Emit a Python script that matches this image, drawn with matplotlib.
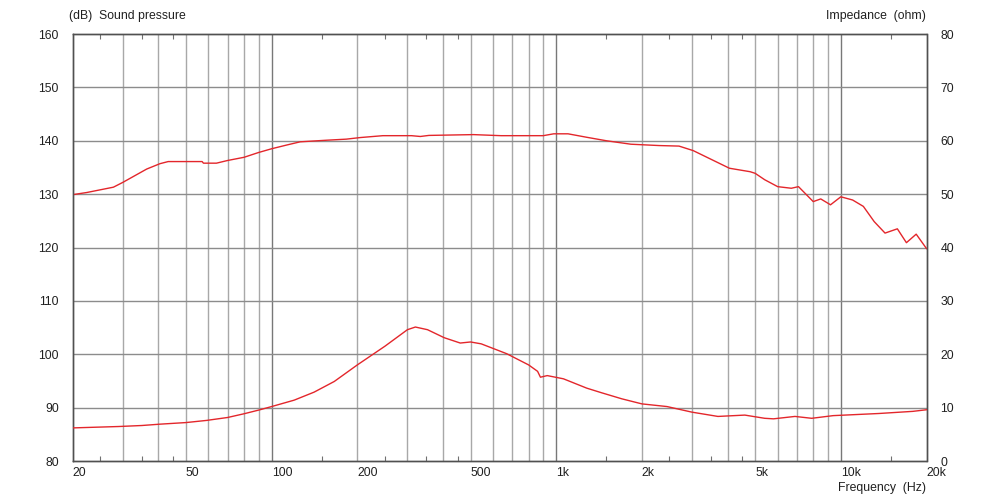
import matplotlib
matplotlib.use("Agg")
import matplotlib.pyplot as plt
from matplotlib.ticker import FixedLocator, NullFormatter

plt.rcParams['font.family'] = ['Liberation Sans', 'DejaVu Sans']
plt.rcParams['font.size'] = 8.8

# Schalldruck (dB)
spl_freq = [20, 22.4, 27.8, 30, 36.4, 40.5, 43.3, 57, 57.6, 64, 70, 80, 90, 100, 113,
            126, 156, 183, 205, 246, 310, 333, 357, 512, 640, 900, 980, 1100, 1280,
            1500, 1830, 2300, 2700, 3030, 4060, 4800, 5000, 5400, 6000, 6700, 7100,
            8000, 8500, 9200, 10000, 11000, 12000, 13100, 14300, 15800, 17000, 18400, 20000]
spl_db = [129.9, 130.3, 131.3, 132.2, 134.7, 135.7, 136.1, 136.1, 135.8, 135.8, 136.3,
          136.9, 137.8, 138.5, 139.2, 139.8, 140.1, 140.3, 140.6, 140.95, 140.95, 140.8,
          141.0, 141.15, 140.95, 140.95, 141.3, 141.3, 140.65, 140.0, 139.35, 139.1,
          139.0, 138.15, 134.85, 134.2, 133.9, 132.7, 131.4, 131.1, 131.4, 128.6, 129.1,
          128.0, 129.5, 128.9, 127.7, 124.85, 122.7, 123.5, 120.9, 122.5, 119.8]

# Impedanz (ohm)
imp_freq = [20, 29, 35, 40.5, 50, 59, 70, 80, 91, 100, 120, 141, 166, 200, 250, 300, 320,
            353, 404, 460, 500, 545, 670, 800, 860, 880, 930, 1060, 1280, 1440, 1700,
            2000, 2450, 3000, 3700, 4600, 5400, 5800, 6900, 7900, 9400, 13600, 17900, 20000]
imp_ohm = [6.2, 6.46, 6.65, 6.9, 7.2, 7.6, 8.15, 8.85, 9.6, 10.2, 11.4, 12.9, 14.9, 18.0,
           21.5, 24.6, 25.1, 24.6, 23.1, 22.1, 22.3, 21.95, 20.1, 18.0, 16.8, 15.7, 16.0,
           15.4, 13.65, 12.8, 11.65, 10.7, 10.2, 9.15, 8.35, 8.6, 8.0, 7.9, 8.35, 8.0,
           8.5, 8.9, 9.3, 9.6]

x_labels = {20: '20', 50: '50', 100: '100', 200: '200', 500: '500', 1000: '1k',
            2000: '2k', 5000: '5k', 10000: '10k', 20000: '20k'}
grid_freqs = [m * d for d in (10, 100, 1000, 10000) for m in range(1, 10)
              if 20 <= m * d <= 20000]
decades = [100, 1000, 10000]
half_ticks = [25, 35, 45, 150, 250, 350, 450, 1500, 2500, 3500, 4500, 15000]

red = '#e3262b'
frame = '#505050'

fig = plt.figure(figsize=(10, 5), dpi=100)
ax = fig.add_axes([0.0727, 0.078, 0.8538, 0.854])
ax2 = ax.twinx()

ax.set_xscale('log')
ax.set_xlim(20, 20000)
ax.set_ylim(80, 160)
ax2.set_ylim(0, 80)

# Gitter
for f in grid_freqs:
    if f in decades:
        ax.axvline(f, color='#787878', lw=1.0, zorder=1)
    elif f not in (20, 20000):
        ax.axvline(f, color='#a8a8a8', lw=1.0, zorder=1)
for v in range(90, 160, 10):
    ax.axhline(v, color='#8c8c8c', lw=1.0, zorder=1)

ax.plot(spl_freq, spl_db, color=red, lw=1.0, zorder=3)
ax2.plot(imp_freq, imp_ohm, color=red, lw=1.0, zorder=3)

# Achsen
ax.xaxis.set_major_locator(FixedLocator(list(x_labels.keys())))
ax.set_xticklabels(list(x_labels.values()))
for t in ax.get_xticklabels():
    t.set_ha('left')
ax.xaxis.set_minor_locator(FixedLocator(half_ticks))
ax.xaxis.set_minor_formatter(NullFormatter())
ax.tick_params(axis='x', which='major', length=0, pad=4, colors='#202020')
ax.tick_params(axis='x', which='minor', direction='in', length=3.5, width=0.8,
               color='#707070', top=True, bottom=True)
ax.set_yticks(range(80, 161, 10))
ax.tick_params(axis='y', length=0, pad=10, colors='#202020')
ax2.set_yticks(range(0, 81, 10))
ax2.tick_params(axis='y', length=0, pad=10, colors='#202020')
for a in (ax, ax2):
    for s in a.spines.values():
        s.set_color(frame)
        s.set_linewidth(1.0)

fig.text(0.069, 0.969, '(dB)  Sound pressure', ha='left', va='center', color='#202020')
fig.text(0.926, 0.969, 'Impedance  (ohm)', ha='right', va='center', color='#202020')
fig.text(0.926, 0.024, 'Frequency  (Hz)', ha='right', va='center', color='#202020')

fig.savefig('out.png', dpi=100, facecolor='white')
